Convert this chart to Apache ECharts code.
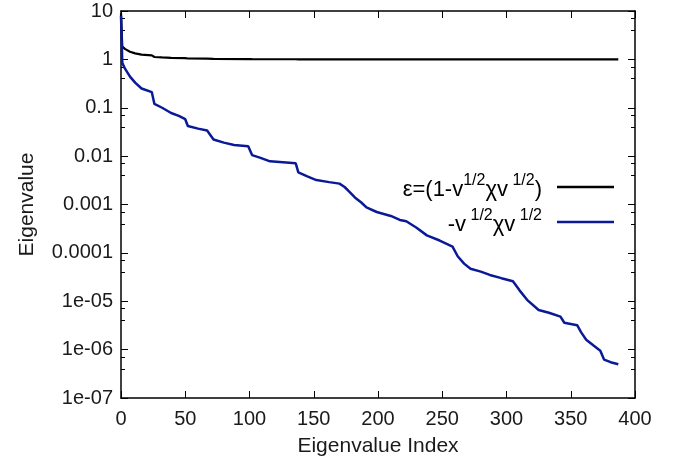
<!DOCTYPE html>
<html>
<head>
<meta charset="utf-8">
<script src="https://cdn.jsdelivr.net/npm/echarts@6/dist/echarts.min.js"></script>
<style>
html,body{margin:0;padding:0;background:#fff;}
#c{width:685px;height:466px;}
</style>
</head>
<body>
<div id="c"></div>
<script>
// x tick labels
const xTicks = [0, 50, 100, 150, 200, 250, 300, 350, 400];
// y tick labels (log scale, by decade exponent)
const yTickLabels = {'-7':'1e-07','-6':'1e-06','-5':'1e-05','-4':'0.0001','-3':'0.001','-2':'0.01','-1':'0.1','0':'1','1':'10'};

// series: -v^1/2 chi v^1/2 (blue)
const blueIdx = [0,1,3,7,11,16,24,26,32,39,45,50,52,60,67,72,80,88,99,102,108,116,126,136,138,145,152,162,170,174,178,182,187,191,199,210,217,222,230,238,248,258,262,267,272,280,287,296,305,310,316,325,333,342,345,355,358,362,368,373,376,381,387];
const blueVal = [8,0.85,0.65,0.44,0.33,0.25,0.21,0.12,0.10,0.078,0.068,0.058,0.042,0.037,0.034,0.022,0.019,0.017,0.016,0.0105,0.0093,0.0078,0.0075,0.0071,0.0046,0.0038,0.0032,0.0029,0.0027,0.0023,0.0018,0.0014,0.0011,0.00087,0.0007,0.00058,0.00048,0.00045,0.00033,0.00023,0.00018,0.000135,0.000085,0.00006,0.000047,0.000041,0.000035,0.00003,0.000026,0.000017,0.0000107,0.0000066,0.0000058,0.0000048,0.0000036,0.0000032,0.0000023,0.0000016,0.0000012,0.00000095,0.00000062,0.00000055,0.0000005];

// series: epsilon = (1 - v^1/2 chi v^1/2) (black)
const blackIdx = [0,1,3,7,11,16,24,26,32,39,50,52,67,72,99,102,136,138,200,387];
const blackVal = [9,1.85,1.65,1.44,1.33,1.25,1.21,1.12,1.10,1.078,1.058,1.042,1.034,1.022,1.016,1.0105,1.0071,1.0046,1.0007,1.0];

const names = ['eps', 'chi'];

const chart = echarts.init(document.getElementById('c'));
const FONT = 'Liberation Sans';
const FS = 20;
const rich = {
  n: {fontSize: 22, fontFamily: FONT, color: '#000', verticalAlign: 'bottom', lineHeight: 28},
  s: {fontSize: 16, fontFamily: FONT, color: '#000', verticalAlign: 'top', lineHeight: 28}
};
const legendText = {
  eps: '{n|ε=(1-v}{s|1/2}{n|χv}{s| 1/2}{n|)}',
  chi: '{n|-v}{s| 1/2}{n|χv}{s| 1/2}'
};
const tickStyle = {show: true, inside: true, length: 7, lineStyle: {color: '#000', width: 1}};
chart.setOption({
  animation: false,
  backgroundColor: '#fff',
  grid: {left: 121, right: 50, top: 11, bottom: 68},
  legend: {
    data: names,
    orient: 'vertical',
    right: 66,
    top: 168,
    align: 'right',
    itemWidth: 57,
    itemHeight: 12,
    itemGap: 7,
    icon: 'path://M0,0 L57,0 L57,2.5 L0,2.5 Z',
    formatter: function (n) { return legendText[n]; },
    textStyle: {rich: rich, padding: [0, 10, 0, 0]}
  },
  xAxis: [{
    type: 'value', min: 0, max: 400, interval: 50, position: 'bottom',
    axisLine: {show: true, onZero: false, lineStyle: {color: '#000', width: 1.5}},
    axisTick: tickStyle,
    splitLine: {show: false},
    axisLabel: {fontFamily: FONT, fontSize: FS, color: '#1a1a1a', margin: 11,
      formatter: v => xTicks.includes(v) ? String(v) : ''},
    name: 'Eigenvalue Index', nameLocation: 'middle', nameGap: 38,
    nameTextStyle: {fontFamily: FONT, fontSize: 21, color: '#1a1a1a'}
  }, {
    type: 'value', min: 0, max: 400, interval: 50, position: 'top',
    axisLine: {show: true, onZero: false, lineStyle: {color: '#000', width: 1.5}},
    axisTick: tickStyle, axisLabel: {show: false}, splitLine: {show: false}
  }],
  yAxis: [{
    type: 'log', logBase: 10, min: 1e-7, max: 10, splitNumber: 8, position: 'left',
    axisLine: {show: true, onZero: false, lineStyle: {color: '#000', width: 1.5}},
    axisTick: tickStyle,
    minorTick: {show: true, splitNumber: 3, length: 4, lineStyle: {color: '#000'}},
    splitLine: {show: false},
    axisLabel: {fontFamily: FONT, fontSize: FS, color: '#1a1a1a', margin: 8,
      formatter: v => yTickLabels[String(Math.round(Math.log10(v)))] || ''},
    name: 'Eigenvalue', nameLocation: 'middle', nameGap: 83, nameRotate: 90,
    nameTextStyle: {fontFamily: FONT, fontSize: 21, color: '#1a1a1a'}
  }, {
    type: 'log', logBase: 10, min: 1e-7, max: 10, splitNumber: 8, position: 'right',
    axisLine: {show: true, onZero: false, lineStyle: {color: '#000', width: 1.5}},
    axisTick: tickStyle,
    minorTick: {show: true, splitNumber: 3, length: 4, lineStyle: {color: '#000'}},
    axisLabel: {show: false}, splitLine: {show: false}
  }],
  series: [{
    name: 'eps', type: 'line', showSymbol: false, symbol: 'none',
    color: '#000',
    lineStyle: {color: '#000', width: 2.2},
    data: blackIdx.map((x, i) => [x, blackVal[i]])
  }, {
    name: 'chi', type: 'line', showSymbol: false, symbol: 'none',
    color: '#0a1a96',
    lineStyle: {color: '#0a1a96', width: 2.5},
    data: blueIdx.map((x, i) => [x, blueVal[i]])
  }]
});
</script>
</body>
</html>
